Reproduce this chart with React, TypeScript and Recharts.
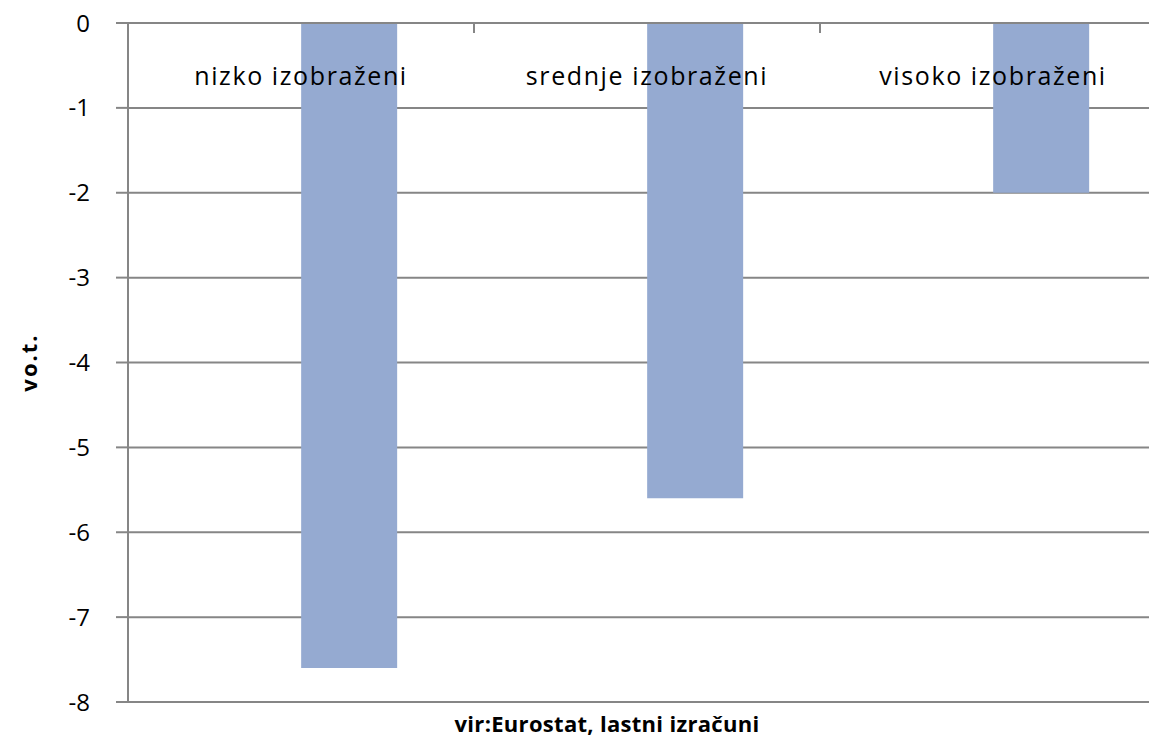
import { BarChart, Bar, XAxis, YAxis, CartesianGrid } from "recharts";

const categories = ["nizko izobraženi", "srednje izobraženi", "visoko izobraženi"];
const changeValues = [-7.6, -5.6, -2.0];
// empty first series in the source chart, keeps the bars right of centre
const emptyValues = [null, null, null];
const yTicks = [0, -1, -2, -3, -4, -5, -6, -7, -8];
const yAxisTitle = "vo.t.";
const sourceNote = "vir:Eurostat, lastni izračuni";

const data = categories.map((name, i) => ({
  name,
  empty: emptyValues[i],
  value: changeValues[i],
}));

const FONT = "'Open Sans', Lato, sans-serif";
const GRID = "#868686";
const CHART_W = 1166;
const CHART_H = 739;
const Y_AXIS_W = 128;
const band = (CHART_W - Y_AXIS_W) / categories.length;

function CategoryTick(props: any) {
  const { x, y, payload, index } = props;
  return (
    <g>
      {index > 0 && (
        <line x1={x - band / 2} x2={x - band / 2} y1={y} y2={y + 10} stroke={GRID} strokeWidth={2} />
      )}
      <text
        x={x}
        y={y + 62}
        textAnchor="middle"
        fontSize={25}
        letterSpacing={1.6}
        fontFamily={FONT}
        fill="#000"
      >
        {payload.value}
      </text>
    </g>
  );
}

export default function App() {
  return (
    <div
      style={{
        position: "absolute",
        left: 0,
        top: 0,
        width: 1149,
        height: CHART_H,
        overflow: "hidden",
        background: "#fff",
      }}
    >
      <BarChart
        width={CHART_W}
        height={CHART_H}
        data={data}
        margin={{ top: 0, right: 0, left: 0, bottom: 0 }}
        barGap={0}
        barCategoryGap="22.3%"
      >
        <CartesianGrid vertical={false} stroke={GRID} strokeWidth={2} />
        <XAxis
          dataKey="name"
          orientation="top"
          xAxisId="top"
          height={23}
          axisLine={{ stroke: GRID, strokeWidth: 2 }}
          tickLine={false}
          tickSize={0}
          tickMargin={0}
          tick={<CategoryTick />}
          interval={0}
        />
        <XAxis
          dataKey="name"
          orientation="bottom"
          xAxisId="bottom"
          height={37}
          axisLine={false}
          tickLine={false}
          tick={false}
          label={{
            value: sourceNote,
            content: (p: any) => (
              <text
                x={p.viewBox.x + p.viewBox.width / 2 - 40}
                y={p.viewBox.y + 30}
                textAnchor="middle"
                fontSize={22}
                fontWeight="bold"
                letterSpacing={0.3}
                fontFamily={FONT}
                fill="#000"
              >
                {sourceNote}
              </text>
            ),
          }}
        />
        <YAxis
          type="number"
          domain={[-8, 0]}
          ticks={yTicks}
          interval={0}
          width={Y_AXIS_W}
          axisLine={{ stroke: GRID, strokeWidth: 2 }}
          tickLine={{ stroke: GRID, strokeWidth: 2 }}
          tickSize={12}
          tickMargin={26}
          tick={{ fontSize: 24, fontFamily: FONT, fill: "#000" }}
          label={{
            value: yAxisTitle,
            content: (p: any) => {
              const cy = p.viewBox.y + p.viewBox.height / 2;
              return (
                <text
                  x={37}
                  y={cy}
                  transform={`rotate(-90, 37, ${cy})`}
                  textAnchor="middle"
                  fontSize={22}
                  fontWeight="bold"
                  letterSpacing={2}
                  fontFamily={FONT}
                  fill="#000"
                >
                  {yAxisTitle}
                </text>
              );
            },
          }}
        />
        <Bar dataKey="empty" xAxisId="top" fill="#95AAD1" isAnimationActive={false} />
        <Bar dataKey="value" xAxisId="top" fill="#95AAD1" isAnimationActive={false} />
      </BarChart>
    </div>
  );
}
